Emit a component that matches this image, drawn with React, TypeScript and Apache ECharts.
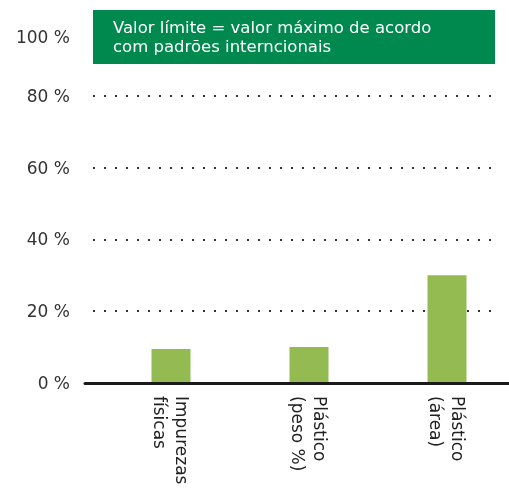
import React, { useEffect, useRef } from "react";
import * as echarts from "echarts";

const categories = ["Impurezas\nfísicas", "Plástico\n(peso %)", "Plástico\n(área)"];
const values = [9.5, 10, 30];
const yTicks = [0, 20, 40, 60, 80, 100];
const noteText = "Valor límite = valor máximo de acordo\ncom padrões interncionais";

const FONT = "'DejaVu Sans', 'Open Sans', sans-serif";

export default function App() {
  const ref = useRef<HTMLDivElement>(null);
  useEffect(() => {
    if (!ref.current) return;
    const chart = echarts.init(ref.current, undefined, { renderer: "svg" });
    const top = 24;
    const bottom = 106;
    chart.setOption({
      animation: false,
      grid: [
        { left: 93, right: 14, top, bottom, outerBoundsMode: "none" },
        { left: 85, right: 0, top, bottom, outerBoundsMode: "none" },
        { left: 102, width: 414, top, bottom, outerBoundsMode: "none" },
      ],
      xAxis: [
        { gridIndex: 0, type: "value", show: false },
        {
          gridIndex: 1,
          type: "value",
          z: 5,
          axisLine: { show: true, onZero: false, lineStyle: { color: "#1a1a1a", width: 3 } },
          axisTick: { show: false },
          axisLabel: { show: false },
          splitLine: { show: false },
        },
        {
          gridIndex: 2,
          type: "category",
          data: categories,
          axisLine: { show: false },
          axisTick: { show: false },
          axisLabel: {
            rotate: -90,
            margin: 13,
            fontSize: 17,
            lineHeight: 22,
            color: "#222",
            fontFamily: FONT,
          },
        },
      ],
      yAxis: [
        {
          gridIndex: 0,
          type: "value",
          min: yTicks[0],
          max: yTicks[yTicks.length - 1],
          interval: 20,
          axisLine: { show: false },
          axisTick: { show: false },
          axisLabel: {
            margin: 23,
            fontSize: 17,
            color: "#333",
            fontFamily: FONT,
            formatter: (v: number) => (v === 100 ? "" : v + " %"),
          },
          splitLine: {
            show: true,
            lineStyle: { color: "#333", width: 2, type: [2, 9] },
          },
        },
        { gridIndex: 1, type: "value", min: 0, max: 100, show: false },
        { gridIndex: 2, type: "value", min: 0, max: 100, show: false },
      ],
      series: [
        {
          type: "bar",
          xAxisIndex: 2,
          yAxisIndex: 2,
          data: values,
          barWidth: 39,
          itemStyle: { color: "#93bb52" },
          z: 3,
        },
      ],
      graphic: [
        {
          type: "rect",
          z: 100,
          shape: { x: 93, y: 10, width: 402, height: 54 },
          style: { fill: "#00894f" },
        },
        {
          type: "text",
          z: 101,
          x: 113,
          y: 18,
          style: {
            text: noteText,
            fill: "#ffffff",
            fontSize: 16.5,
            lineHeight: 19,
            fontFamily: FONT,
          },
        },
        {
          type: "text",
          z: 101,
          x: 70,
          y: 37,
          style: {
            text: "100 %",
            fill: "#333",
            fontSize: 17,
            fontFamily: FONT,
            align: "right",
            verticalAlign: "middle",
          },
        },
      ],
    });
    return () => chart.dispose();
  }, []);
  return (
    <div
      ref={ref}
      style={{ position: "fixed", left: 0, top: 0, width: 509, height: 489 }}
    />
  );
}
